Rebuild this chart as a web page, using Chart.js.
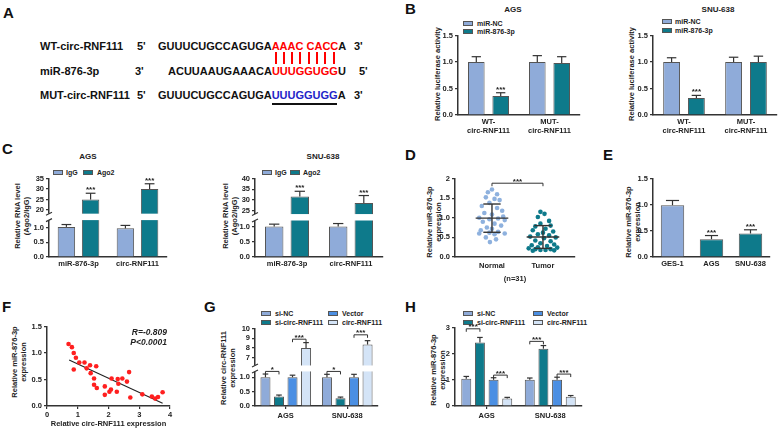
<!DOCTYPE html>
<html>
<head>
<meta charset="utf-8">
<script src="https://cdn.jsdelivr.net/npm/chart.js@4.4.1/dist/chart.umd.min.js"></script>
<style>
body { margin: 0; width: 778px; height: 430px; position: relative; overflow: hidden; background: #fff;
  font-family: "Liberation Sans", Arial, sans-serif; font-weight: bold; color: #222 }
canvas { position: absolute }
.t { position: absolute; white-space: pre; line-height: 1 }
.lab { font-size: 15px; color: #111 }
.seq { font-size: 11px; color: #111 }
.ttl { font-size: 8px; transform: translateX(-50%) }
.lg { font-size: 7px }
.yt { position: absolute; white-space: pre; font-size: 7.5px; line-height: 8.8px; text-align: center;
  transform: translate(-50%, -50%) rotate(-90deg) }
.box { position: absolute; width: 10px; height: 5px; border: 1px solid #555; box-sizing: border-box }
.pair { position: absolute; width: 1.6px; height: 12.6px; top: 51.7px; background: #f00 }
</style>
</head>
<body>
<div class="t lab" style="left:3px;top:5px">A</div>
<div class="t lab" style="left:405px;top:1px">B</div>
<div class="t lab" style="left:2px;top:141px">C</div>
<div class="t lab" style="left:405px;top:147px">D</div>
<div class="t lab" style="left:603px;top:147px">E</div>
<div class="t lab" style="left:2px;top:299px">F</div>
<div class="t lab" style="left:204px;top:299px">G</div>
<div class="t lab" style="left:405px;top:299px">H</div>

<div class="t seq" style="left:40px;top:40.5px">WT-circ-RNF111</div>
<div class="t seq" style="left:137px;top:40.5px">5'</div>
<div class="t seq" style="left:158px;top:40.5px">GUUUCUGCCAGUGA<span style="color:#f00">AAAC CACC</span>A</div>
<div class="t seq" style="left:354px;top:40.5px">3'</div>
<div class="t seq" style="left:40px;top:65.5px">miR-876-3p</div>
<div class="t seq" style="left:135px;top:65.5px">3'</div>
<div class="t seq" style="left:168px;top:65.5px">ACUUAAUGAAACA<span style="color:#f00">UUUGGUGG</span>U</div>
<div class="t seq" style="left:359px;top:65.5px">5'</div>
<div class="t seq" style="left:40px;top:89.6px">MUT-circ-RNF111</div>
<div class="t seq" style="left:137px;top:89.6px">5'</div>
<div class="t seq" style="left:158px;top:89.6px">GUUUCUGCCAGUGA<span style="color:#2323c8">UUUGGUGG</span>A</div>
<div class="t seq" style="left:354px;top:89.6px">3'</div>
<div id="pairs"></div>
<div style="position:absolute;left:271.5px;top:102.5px;width:65px;height:2px;background:#111"></div>

<div class="t ttl" style="left:513px;top:6px">AGS</div>
<div class="t ttl" style="left:718px;top:6px">SNU-638</div>
<div class="t ttl" style="left:88px;top:153px">AGS</div>
<div class="t ttl" style="left:323px;top:153px">SNU-638</div>

<div class="yt" style="left:438px;top:74px">Relative luciferase activity</div>
<div class="yt" style="left:632px;top:74px">Relative luciferase activity</div>
<div class="yt" style="left:22.5px;top:216px">Relative RNA level
(Ago2/IgG)</div>
<div class="yt" style="left:231px;top:216px">Relative RNA level
(Ago2/IgG)</div>
<div class="yt" style="left:434.5px;top:222px">Relative miR-876-3p
expression</div>
<div class="yt" style="left:634px;top:222px">Relative miR-876-3p
expression</div>
<div class="yt" style="left:20px;top:362px">Relative miR-876-3p
expression</div>
<div class="yt" style="left:229px;top:368px">Relative circ-RNF111
expression</div>
<div class="yt" style="left:439px;top:370px">Relative miR-876-3p
expression</div>
<div id="legends"></div>

<script>
// ---- data ----
const pairX = [276, 284, 292, 300, 309, 317, 325, 334]

// B: luciferase
const bGroups = [['WT-', 'circ-RNF111'], ['MUT-', 'circ-RNF111']]
const bAgsNC = [1.0, 1.0], bAgsNCErr = [0.10, 0.12]
const bAgsMiR = [0.36, 0.98], bAgsMiRErr = [0.06, 0.12]
const bSnuNC = [1.0, 1.0], bSnuNCErr = [0.08, 0.09]
const bSnuMiR = [0.32, 1.0], bSnuMiRErr = [0.05, 0.11]

// C: RIP
const cGenes = ['miR-876-3p', 'circ-RNF111']
const cAgsIgG = [1.02, 0.97], cAgsIgGErr = [0.08, 0.10]
const cAgsAgo2 = [25, 30], cAgsAgo2Err = [3.0, 2.5]
const cSnuIgG = [1.0, 1.0], cSnuIgGErr = [0.08, 0.10]
const cSnuAgo2 = [31.5, 28.5], cSnuAgo2Err = [2.5, 3.5]
const cAgsTicks = [0, 0.5, 1, 20, 25, 30, 35]
const cSnuTicks = [0, 0.5, 1, 25, 30, 35, 40]

// D: tissues
const dGroups = ['Normal', 'Tumor']
const dNormal = [1.72, 1.65, 1.60, 1.52, 1.48, 1.45, 1.38, 1.30, 1.25, 1.18, 1.12, 1.08, 1.03, 1.00, 0.98, 0.96,
  0.94, 0.90, 0.85, 0.80, 0.75, 0.72, 0.68, 0.64, 0.62, 0.60, 0.60, 0.58, 0.50, 0.45, 0.38]
const dNormalJit = [0, -0.08, 0.10, -0.12, 0.05, 0.15, -0.05, -0.2, 0.1, 0.2, -0.15, 0, 0.22, -0.25, 0.12, -0.05,
  0.25, -0.18, 0.05, 0.18, -0.1, 0, -0.22, 0.12, -0.05, 0.25, -0.25, 0.05, -0.12, 0.08, -0.04]
const dTumor = [1.15, 1.10, 1.02, 0.92, 0.85, 0.80, 0.78, 0.72, 0.68, 0.65, 0.62, 0.58, 0.55, 0.52, 0.50, 0.48,
  0.42, 0.40, 0.35, 0.32, 0.30, 0.28, 0.25, 0.24, 0.22, 0.20, 0.20, 0.18, 0.18, 0.17, 0.16]
const dTumorJit = [-0.05, 0.03, -0.1, 0.12, -0.05, 0.15, -0.15, 0.05, -0.2, 0.2, 0, -0.1, 0.12, -0.25, 0.25, 0.02,
  -0.15, 0.15, -0.05, 0.22, -0.22, 0.08, -0.1, 0.28, -0.28, 0.15, -0.15, 0.05, -0.05, 0.22, -0.2]
const dMean = [0.99, 0.51], dSD = [0.36, 0.29]

// E: cell lines
const eCells = ['GES-1', 'AGS', 'SNU-638']
const eValues = [0.99, 0.34, 0.45], eErr = [0.09, 0.07, 0.07]

// F: correlation
const fCirc = [0.70, 0.81, 0.87, 0.94, 0.87, 1.05, 1.22, 1.40, 1.60, 1.29, 1.42, 1.53, 1.53, 1.62, 1.88, 1.88,
  2.03, 2.08, 2.10, 2.30, 2.32, 2.27, 2.45, 2.60, 2.67, 2.71, 3.10, 3.41, 3.52, 3.61, 3.76]
const fMiR = [1.17, 1.11, 1.00, 0.91, 0.69, 0.82, 0.82, 0.77, 0.75, 0.71, 0.62, 0.52, 0.40, 0.34, 0.21, 0.37,
  0.27, 0.31, 0.52, 0.51, 0.42, 0.27, 0.52, 0.46, 0.64, 0.16, 0.22, 0.18, 0.14, 0.17, 0.26]
const fFitX = [0.72, 3.76], fFitY = [0.87, 0.05]

// G / H: knockdown and overexpression
const ghCells = ['AGS', 'SNU-638']
const gSiNC = [1.0, 1.0], gSiNCErr = [0.11, 0.10]
const gSiCirc = [0.33, 0.27], gSiCircErr = [0.05, 0.04]
const gVector = [1.0, 1.0], gVectorErr = [0.07, 0.10]
const gCirc = [8.0, 8.35], gCircErr = [0.55, 0.4]
const gTicks = [0, 0.5, 1, 7, 8, 9, 10]
const hSiNC = [1.04, 1.0], hSiNCErr = [0.09, 0.07]
const hSiCirc = [2.43, 2.19], hSiCircErr = [0.19, 0.12]
const hVector = [1.0, 1.0], hVectorErr = [0.08, 0.1]
const hCirc = [0.29, 0.35], hCircErr = [0.04, 0.05]

// ---- colours ----
const LIGHT = '#8fabd9', TEAL = '#0e7a8b', BLUE = '#4b8fe3', PALE = '#d4e4f7'

pairX.forEach(x => {
  const d = document.createElement('div')
  d.className = 'pair'
  d.style.left = (x - 0.8) + 'px'
  document.getElementById('pairs').appendChild(d)
})

// legend entries: [boxX, centerY, textX, label, colour]
const legendItems = [
  [463, 23, 477, 'miR-NC', LIGHT], [463, 31, 477, 'miR-876-3p', TEAL],
  [662, 21.5, 675, 'miR-NC', LIGHT], [662, 30, 675, 'miR-876-3p', TEAL],
  [53, 172.5, 66, 'IgG', LIGHT], [83, 172.5, 97, 'Ago2', TEAL],
  [262, 172.5, 275, 'IgG', LIGHT], [290, 172.5, 303, 'Ago2', TEAL],
  [261, 313, 275, 'si-NC', LIGHT], [261, 322.5, 275, 'si-circ-RNF111', TEAL],
  [328, 313, 342, 'Vector', BLUE], [328, 322.5, 342, 'circ-RNF111', PALE],
  [463, 313, 477, 'si-NC', LIGHT], [463, 322.5, 477, 'si-circ-RNF111', TEAL],
  [533, 313, 547, 'Vector', BLUE], [533, 322.5, 547, 'circ-RNF111', PALE]
]
legendItems.forEach(([bx, cy, tx, label, col]) => {
  const box = document.createElement('div')
  box.className = 'box'
  box.style.left = bx + 'px'
  box.style.top = (cy - 2.5) + 'px'
  box.style.background = col
  const txt = document.createElement('div')
  txt.className = 't lg'
  txt.style.left = tx + 'px'
  txt.style.top = (cy - 3.5) + 'px'
  txt.textContent = label
  const host = document.getElementById('legends')
  host.appendChild(box)
  host.appendChild(txt)
})

// ---- chart setup ----
Chart.defaults.font.family = "'Liberation Sans', Arial, sans-serif"
Chart.defaults.font.size = 7.5
Chart.defaults.font.weight = 'bold'
Chart.defaults.color = '#222'
Chart.defaults.animation = false
Chart.defaults.responsive = false
Chart.defaults.devicePixelRatio = 1
Chart.defaults.plugins.legend.display = false
Chart.defaults.plugins.tooltip.enabled = false

// y axis with a gap: low part [0, low], high part [high, max]
const BREAKS = {
  cAgs: { low: 1.25, high: 18.3, fLow: 0.47, fGap: 0.082 },
  cSnu: { low: 1.2, high: 23.3, fLow: 0.465, fGap: 0.082 },
  gChart: { low: 1.2, high: 6.2, fLow: 0.446, fGap: 0.077 }
}
class BrokenScale extends Chart.LinearScale {
  static id = 'broken'
  toDec(v) {
    const b = BREAKS[this.chart.canvas.id]
    if (v <= b.low) return v / b.low * b.fLow
    if (v >= b.high) return b.fLow + b.fGap + (v - b.high) / (this.max - b.high) * (1 - b.fLow - b.fGap)
    return b.fLow + (v - b.low) / (b.high - b.low) * b.fGap
  }
  getPixelForValue(v) {
    return v === null ? NaN : this.getPixelForDecimal(this.toDec(v))
  }
  getValueForPixel(p) {
    const b = BREAKS[this.chart.canvas.id]
    const d = this.getDecimalForPixel(p)
    if (d <= b.fLow) return d / b.fLow * b.low
    if (d >= b.fLow + b.fGap) return b.high + (d - b.fLow - b.fGap) / (1 - b.fLow - b.fGap) * (this.max - b.high)
    return b.low + (d - b.fLow) / b.fGap * (b.high - b.low)
  }
}
Chart.register(BrokenScale)

const fmt = v => v < 2 ? v.toFixed(1) : String(v)

function place(id, area, lw, bh, tp, rp) {
  const c = document.createElement('canvas')
  c.id = id
  c.width = area[2] - area[0] + lw + rp
  c.height = area[3] - area[1] + tp + bh
  c.style.left = (area[0] - lw) + 'px'
  c.style.top = (area[1] - tp) + 'px'
  document.body.appendChild(c)
  return c
}

function yAxis(lw, extra) {
  return Object.assign({
    grid: { display: true, drawOnChartArea: false, drawTicks: true, tickLength: 3, color: '#333', lineWidth: 1.2 },
    border: { color: '#333', width: 1.5 },
    ticks: { padding: 2, callback: fmt },
    afterFit: s => { s.width = lw }
  }, extra)
}

function xAxis(bh, marks, extra) {
  return Object.assign({
    grid: { display: marks, drawOnChartArea: false, drawTicks: marks, tickLength: 3, color: '#333', offset: false, lineWidth: 1.2 },
    border: { color: '#333', width: 1.5 },
    ticks: { padding: 2, maxRotation: 0, autoSkip: false },
    afterFit: s => { s.height = bh }
  }, extra)
}

// error bars, stars, brackets, axis break, summary lines, notes
function deco(cfg) {
  return {
    id: 'deco',
    afterDatasetsDraw(chart) {
      const ctx = chart.ctx, ys = chart.scales.y, xs = chart.scales.x, ca = chart.chartArea
      const seg = (x1, y1, x2, y2) => { ctx.beginPath(); ctx.moveTo(x1, y1); ctx.lineTo(x2, y2); ctx.stroke() }
      ctx.save()
      ctx.strokeStyle = '#333'
      ctx.lineWidth = 1.2
      const b = BREAKS[chart.canvas.id]
      if (b) {
        const lo = ys.getPixelForValue(b.low), hi = ys.getPixelForValue(b.high)
        ctx.fillStyle = '#fff'
        ctx.fillRect(ca.left - 4, hi, ca.right - ca.left + 4, lo - hi)
        seg(ca.left - 3, lo + 1.5, ca.left + 3, lo - 1.5)
        seg(ca.left - 3, hi + 1.5, ca.left + 3, hi - 1.5)
      }
      const errs = cfg.errs || []
      errs.forEach((e, di) => {
        if (!e) return
        chart.getDatasetMeta(di).data.forEach((el, i) => {
          const top = ys.getPixelForValue(chart.data.datasets[di].data[i] + e[i])
          const w = el.width * 0.28
          seg(el.x, el.y, el.x, top)
          seg(el.x - w, top, el.x + w, top)
        })
      })
      if (cfg.summary) {
        ctx.lineWidth = 1.4
        cfg.summary.x.forEach((xv, k) => {
          const cx = xs.getPixelForValue(xv)
          const hw = xs.getPixelForValue(xv + 0.32) - cx
          const cw = xs.getPixelForValue(xv + 0.17) - cx
          const m = ys.getPixelForValue(cfg.summary.mean[k])
          const up = ys.getPixelForValue(cfg.summary.mean[k] + cfg.summary.sd[k])
          const dn = ys.getPixelForValue(cfg.summary.mean[k] - cfg.summary.sd[k])
          seg(cx - hw, m, cx + hw, m)
          seg(cx, up, cx, dn)
          seg(cx - cw, up, cx + cw, up)
          seg(cx - cw, dn, cx + cw, dn)
        })
        ctx.lineWidth = 1.2
      }
      ctx.fillStyle = '#222'
      ctx.font = "bold 8px 'Liberation Sans', Arial"
      ctx.textAlign = 'center'
      ctx.textBaseline = 'alphabetic'
      ;(cfg.stars || []).forEach(([di, i, t]) => {
        const el = chart.getDatasetMeta(di).data[i]
        const top = ys.getPixelForValue(chart.data.datasets[di].data[i] + errs[di][i])
        ctx.fillText(t, el.x, top - 1)
      })
      ;(cfg.brackets || []).forEach(([a, c, v, t]) => {
        const xa = Array.isArray(a) ? chart.getDatasetMeta(a[0]).data[a[1]].x : xs.getPixelForValue(a)
        const xb = Array.isArray(c) ? chart.getDatasetMeta(c[0]).data[c[1]].x : xs.getPixelForValue(c)
        const py = ys.getPixelForValue(v)
        ctx.lineWidth = 1
        seg(xa, py + 3, xa, py)
        seg(xa, py, xb, py)
        seg(xb, py, xb, py + 3)
        ctx.fillText(t, (xa + xb) / 2, py + 0.5)
      })
      if (cfg.note) {
        ctx.font = "italic bold 8.5px 'Liberation Sans', Arial"
        ctx.textAlign = 'right'
        cfg.note.forEach((t, k) => ctx.fillText(t, ca.right - 3, ca.top + 8 + k * 10.5))
      }
      ctx.restore()
    }
  }
}

function barChart(id, area, lw, bh, labels, sets, yOpts, cfg) {
  const c = place(id, area, lw, bh, 6, cfg.rp || 4)
  return new Chart(c, {
    type: 'bar',
    data: {
      labels: labels,
      datasets: sets.map(s => ({
        data: s[0], backgroundColor: s[1], borderColor: '#555', borderWidth: 1,
        categoryPercentage: cfg.cat, barPercentage: cfg.bar
      }))
    },
    options: {
      layout: { padding: { left: 0, top: 6, right: cfg.rp || 4, bottom: 0 } },
      scales: { x: xAxis(bh, !!cfg.marks), y: yOpts }
    },
    plugins: [deco(cfg)]
  })
}

const yStep = (max, step) => ({ min: 0, max: max, ticks: { padding: 2, stepSize: step, callback: fmt } })

// B
barChart('bAgs', [458, 35, 580, 115], 18, 22, bGroups, [[bAgsNC, LIGHT], [bAgsMiR, TEAL]],
  yAxis(18, yStep(1.5, 0.5)),
  { cat: 0.8, bar: 0.68, errs: [bAgsNCErr, bAgsMiRErr], stars: [[1, 0, '***']] })
barChart('bSnu', [653, 35, 777, 115], 18, 22, bGroups, [[bSnuNC, LIGHT], [bSnuMiR, TEAL]],
  yAxis(18, yStep(1.5, 0.5)),
  { cat: 0.8, bar: 0.68, rp: 1, errs: [bSnuNCErr, bSnuMiRErr], stars: [[1, 0, '***']] })

// C
barChart('cAgs', [49, 178, 167, 257], 18, 14, cGenes, [[cAgsIgG, LIGHT], [cAgsAgo2, TEAL]],
  yAxis(18, {
    type: 'broken', min: 0, max: 35,
    afterBuildTicks: s => { s.ticks = cAgsTicks.map(v => ({ value: v })) }
  }),
  { cat: 0.82, bar: 0.72, errs: [cAgsIgGErr, cAgsAgo2Err], stars: [[1, 0, '***'], [1, 1, '***']] })
barChart('cSnu', [255, 178, 383, 257], 18, 14, cGenes, [[cSnuIgG, LIGHT], [cSnuAgo2, TEAL]],
  yAxis(18, {
    type: 'broken', min: 0, max: 40,
    afterBuildTicks: s => { s.ticks = cSnuTicks.map(v => ({ value: v })) }
  }),
  { cat: 0.8, bar: 0.72, errs: [cSnuIgGErr, cSnuAgo2Err], stars: [[1, 0, '***'], [1, 1, '***']] })

// D
const dCanvas = place('dChart', [455, 178, 575, 257], 18, 26, 6, 4)
new Chart(dCanvas, {
  type: 'scatter',
  data: {
    datasets: [
      { data: dNormal.map((v, i) => ({ x: 1 + dNormalJit[i], y: v })), backgroundColor: '#8eb1de', pointRadius: 2.3, borderWidth: 0 },
      { data: dTumor.map((v, i) => ({ x: 2 + dTumorJit[i], y: v })), backgroundColor: TEAL, pointRadius: 2.3, borderWidth: 0 }
    ]
  },
  options: {
    layout: { padding: { left: 0, top: 6, right: 4, bottom: 0 } },
    scales: {
      x: xAxis(26, false, {
        type: 'linear', min: 0.275, max: 2.628,
        afterBuildTicks: s => { s.ticks = [{ value: 1 }, { value: 2 }] },
        ticks: { padding: 4, callback: v => dGroups[v - 1] },
        title: { display: true, text: '(n=31)', padding: { top: 4, bottom: 0 } }
      }),
      y: yAxis(18, yStep(2, 0.5))
    }
  },
  plugins: [deco({ summary: { x: [1, 2], mean: dMean, sd: dSD }, brackets: [[1, 2, 1.88, '***']] })]
})

// E
barChart('eChart', [653, 178, 770, 257], 18, 14, eCells, [[eValues, [LIGHT, TEAL, TEAL]]],
  yAxis(18, yStep(1.5, 0.5)),
  { cat: 1, bar: 0.6, errs: [eErr], stars: [[0, 1, '***'], [0, 2, '***']] })

// F
const fCanvas = place('fChart', [47, 326, 170, 406], 18, 22, 6, 5)
new Chart(fCanvas, {
  type: 'scatter',
  data: {
    datasets: [
      { data: fCirc.map((x, i) => ({ x: x, y: fMiR[i] })), backgroundColor: '#ff1f1f', pointRadius: 2.3, borderWidth: 0 },
      { type: 'line', data: fFitX.map((x, i) => ({ x: x, y: fFitY[i] })), borderColor: '#222', borderWidth: 1.1, pointRadius: 0 }
    ]
  },
  options: {
    layout: { padding: { left: 0, top: 6, right: 5, bottom: 0 } },
    scales: {
      x: xAxis(22, true, {
        type: 'linear', min: 0, max: 4,
        ticks: { padding: 1, stepSize: 1 },
        title: { display: true, text: 'Relative circ-RNF111 expression', padding: { top: 1, bottom: 0 } }
      }),
      y: yAxis(18, yStep(1.5, 0.5))
    }
  },
  plugins: [deco({ note: ['R=-0.809', 'P<0.0001'] })]
})

// G
barChart('gChart', [255, 328, 378, 406], 18, 14, ghCells,
  [[gSiNC, LIGHT], [gSiCirc, TEAL], [gVector, BLUE], [gCirc, PALE]],
  yAxis(18, {
    type: 'broken', min: 0, max: 10,
    afterBuildTicks: s => { s.ticks = gTicks.map(v => ({ value: v })) }
  }),
  {
    cat: 0.88, bar: 0.74, marks: true, errs: [gSiNCErr, gSiCircErr, gVectorErr, gCircErr],
    brackets: [[[0, 0], [1, 0], 1.22, '*'], [[2, 0], [3, 0], 8.9, '***'],
      [[0, 1], [1, 1], 1.21, '*'], [[2, 1], [3, 1], 9.35, '***']]
  })

// H
barChart('hChart', [455, 327, 582, 406], 14, 14, ghCells,
  [[hSiNC, LIGHT], [hSiCirc, TEAL], [hVector, BLUE], [hCirc, PALE]],
  yAxis(14, { min: 0, max: 3, ticks: { padding: 2, stepSize: 1, callback: v => String(v) } }),
  {
    cat: 0.86, bar: 0.73, marks: true, errs: [hSiNCErr, hSiCircErr, hVectorErr, hCircErr],
    brackets: [[[0, 0], [1, 0], 2.95, '***'], [[2, 0], [3, 0], 1.18, '***'],
      [[0, 1], [1, 1], 2.47, '***'], [[2, 1], [3, 1], 1.22, '***']]
  })
</script>
</body>
</html>
